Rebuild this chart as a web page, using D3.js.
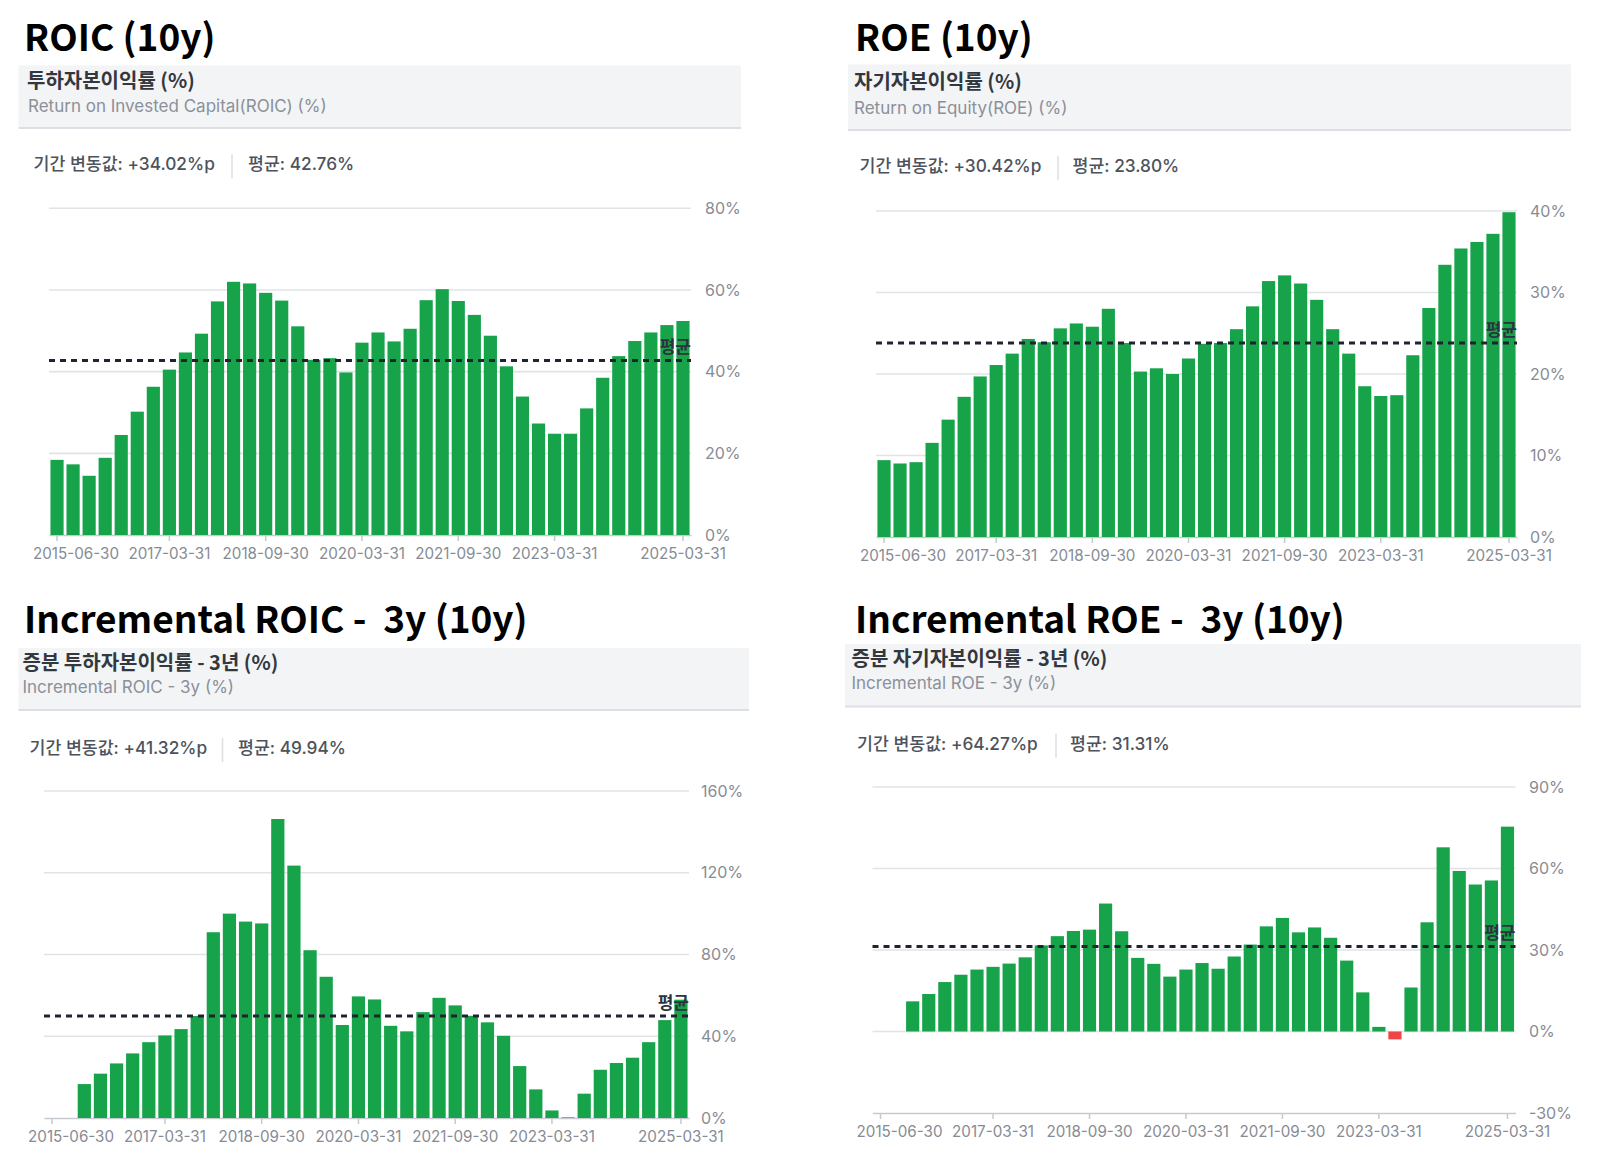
<!DOCTYPE html>
<html><head><meta charset="utf-8">
<script src="https://cdn.jsdelivr.net/npm/d3@7"></script>
<style>
html,body{margin:0;padding:0;background:#fff;}
svg{display:block;}
</style></head><body>
<svg id="c" width="1608" height="1171"></svg>
<script>
// ---------- DATA ----------
const quarters = ["2015-06-30","2015-09-30","2015-12-31","2016-03-31","2016-06-30","2016-09-30","2016-12-31","2017-03-31",
 "2017-06-30","2017-09-30","2017-12-31","2018-03-31","2018-06-30","2018-09-30","2018-12-31","2019-03-31",
 "2019-06-30","2019-09-30","2019-12-31","2020-03-31","2020-06-30","2020-09-30","2020-12-31","2021-03-31",
 "2021-06-30","2021-09-30","2021-12-31","2022-03-31","2022-06-30","2022-09-30","2022-12-31","2023-03-31",
 "2023-06-30","2023-09-30","2023-12-31","2024-03-31","2024-06-30","2024-09-30","2024-12-31","2025-03-31"];
const tickLabels = ["2015-06-30","2017-03-31","2018-09-30","2020-03-31","2021-09-30","2023-03-31","2025-03-31"];

const roicValues = [18.4,17.3,14.5,18.9,24.5,30.2,36.3,40.5,44.7,49.3,57.2,62.0,61.6,59.3,57.4,51.1,42.9,43.3,39.8,47.1,
 49.6,47.4,50.5,57.5,60.2,57.3,53.9,48.8,41.3,33.9,27.3,24.8,24.8,31.0,38.5,43.8,47.5,49.6,51.4,52.4];
const roeValues = [9.43,9.02,9.18,11.55,14.4,17.2,19.7,21.1,22.5,24.3,23.9,25.6,26.2,25.8,28.0,23.8,20.3,20.7,20.0,21.9,
 23.7,23.8,25.5,28.3,31.4,32.1,31.1,29.1,25.5,22.5,18.5,17.3,17.4,22.3,28.1,33.4,35.4,36.2,37.2,39.85];
const incRoicValues = [null,null,16.6,21.7,26.7,31.6,37.1,40.4,43.5,49.9,90.9,100.0,96.1,95.2,146.3,123.5,82.1,69.1,45.5,59.5,
 58.0,45.1,42.4,51.8,58.8,55.1,50.0,46.8,40.2,25.4,14.0,3.7,0.3,11.9,23.6,26.9,29.5,37.1,47.9,57.9];
const incRoeValues = [null,null,11.1,13.8,18.2,20.9,22.8,23.8,25.0,27.3,31.7,35.1,37.0,37.5,47.1,36.9,27.1,24.9,20.2,22.8,
 25.2,23.1,27.6,32.0,38.7,41.8,36.5,38.3,34.5,26.1,14.4,1.7,-2.9,16.2,40.2,67.8,59.1,54.1,55.6,75.4];

const chartTitles = ["ROIC (10y)","ROE (10y)","Incremental ROIC -  3y (10y)","Incremental ROE -  3y (10y)"];
const koreanTitles = ["투하자본이익률 (%)","자기자본이익률 (%)","증분 투하자본이익률 - 3년 (%)","증분 자기자본이익률 - 3년 (%)"];
const englishTitles = ["Return on Invested Capital(ROIC) (%)","Return on Equity(ROE) (%)","Incremental ROIC - 3y (%)","Incremental ROE - 3y (%)"];
const periodChanges = ["+34.02%p","+30.42%p","+41.32%p","+64.27%p"];
const averages = [42.76, 23.80, 49.94, 31.31];
const yTicksRoic = [0,20,40,60,80];
const yTicksRoe = [0,10,20,30,40];
const yTicksIncRoic = [0,40,80,120,160];
const yTicksIncRoe = [-30,0,30,60,90];
const seriesList = [roicValues, roeValues, incRoicValues, incRoeValues];
const yTickList = [yTicksRoic, yTicksRoe, yTicksIncRoic, yTicksIncRoe];

// ---------- LAYOUT ----------
const layouts = [
 {title:[24,51], box:[18.5,741,65.5,128], kor:[27,88], eng:[28,112], stats:{y:170,x0:33.5,sep:232,x1:248}, x:[49,691], y:[535,208.3], ylab:705},
 {title:[855,51], box:[848,1571,64.5,130], kor:[854,89], eng:[854,114], stats:{y:172,x0:859.5,sep:1058,x1:1072.5}, x:[876,1517], y:[537,211], ylab:1530},
 {title:[24,633], box:[18.5,749,648,710], kor:[22.5,670], eng:[22.5,693], stats:{y:754,x0:29.5,sep:222.5,x1:238}, x:[44,689], y:[1118,791], ylab:701},
 {title:[855,633], box:[845,1581,644,706.5], kor:[851.5,666], eng:[851.5,689], stats:{y:750,x0:857,sep:1056,x1:1070}, x:[872.5,1515.5], y:[1113,787], ylab:1529}
];

const GREEN = "#16a34a", RED = "#ef4444";
const KR = "'Noto Sans CJK KR','Noto Sans',sans-serif";
const MIX = "Inter,'Noto Sans CJK KR',sans-serif";
const svg = d3.select("#c");

layouts.forEach((L, i) => {
  const g = svg.append("g");
  // title
  g.append("text").attr("x", L.title[0]).attr("y", L.title[1])
    .style("white-space","pre")
    .attr("font-family","'Noto Sans CJK KR','Noto Sans',sans-serif").attr("font-weight",700)
    .attr("font-size",37).attr("fill","#000").text(chartTitles[i]);
  // header box
  g.append("rect").attr("x", L.box[0]).attr("y", L.box[2])
    .attr("width", L.box[1]-L.box[0]).attr("height", L.box[3]-L.box[2]).attr("fill","#f3f4f6");
  g.append("line").attr("x1", L.box[0]).attr("x2", L.box[1]).attr("y1", L.box[3]).attr("y2", L.box[3])
    .attr("stroke","#dcdfe3").attr("stroke-width",2);
  g.append("text").attr("x", L.kor[0]).attr("y", L.kor[1]).attr("font-family",KR).attr("font-weight",700)
    .attr("font-size",20).attr("fill","#33383f").text(koreanTitles[i]);
  g.append("text").attr("x", L.eng[0]).attr("y", L.eng[1]).attr("font-family","Inter,'Noto Sans',sans-serif")
    .attr("font-size",17).attr("fill","#8b9099").text(englishTitles[i]);
  // stats
  g.append("text").attr("x", L.stats.x0).attr("y", L.stats.y).attr("font-family",MIX).attr("font-weight",500)
    .attr("font-size",17.3).attr("fill","#4d535c").text("기간 변동값: " + periodChanges[i]);
  g.append("line").attr("x1", L.stats.sep).attr("x2", L.stats.sep)
    .attr("y1", L.stats.y-16).attr("y2", L.stats.y+8).attr("stroke","#dcdfe4").attr("stroke-width",1.5);
  g.append("text").attr("x", L.stats.x1).attr("y", L.stats.y).attr("font-family",MIX).attr("font-weight",500)
    .attr("font-size",17.3).attr("fill","#4d535c").text("평균: " + averages[i].toFixed(2) + "%");

  // scales
  const ticks = yTickList[i];
  const x = d3.scaleBand().domain(quarters).range(L.x).paddingInner(0.18).paddingOuter(0.09);
  const y = d3.scaleLinear().domain([d3.min(ticks), d3.max(ticks)]).range(L.y);

  // gridlines
  g.append("g").selectAll("line").data(ticks.slice(1)).join("line")
    .attr("x1", L.x[0]).attr("x2", L.x[1])
    .attr("y1", d => y(d)).attr("y2", d => y(d))
    .attr("stroke","#e2e3e7").attr("stroke-width",1.6);

  // y labels
  const ya = g.append("g").attr("transform", `translate(${L.ylab},0)`)
    .call(d3.axisRight(y).tickValues(ticks).tickSize(0).tickPadding(0).tickFormat(d => d + "%"));
  ya.select(".domain").remove();
  ya.selectAll("text").attr("font-family","Inter,Roboto,sans-serif").attr("font-size",16).attr("fill","#878c95");

  // x axis
  const xa = g.append("g").attr("transform", `translate(0,${L.y[0]})`)
    .call(d3.axisBottom(x).tickValues(tickLabels).tickSize(6).tickSizeOuter(0));
  xa.select(".domain").attr("stroke","#c5c9d0").attr("stroke-width",1.6);
  xa.selectAll(".tick line").attr("stroke","#c5c9d0").attr("stroke-width",1.5);
  xa.selectAll("text").attr("font-family","Inter,Roboto,sans-serif").attr("font-size",15.2)
    .attr("fill","#868b94").attr("y",23.5).attr("dy","0");
  xa.selectAll(".tick").filter(d => d === tickLabels[0]).select("text")
    .attr("text-anchor","start").attr("x",-24);

  // bars
  const data = quarters.map((q, k) => ({q, v: seriesList[i][k]})).filter(d => d.v !== null);
  g.append("g").selectAll("rect").data(data).join("rect")
    .attr("x", d => x(d.q)).attr("width", x.bandwidth())
    .attr("y", d => y(Math.max(0, d.v)))
    .attr("height", d => Math.abs(y(d.v) - y(0)))
    .attr("fill", d => d.v >= 0 ? GREEN : RED);

  // average line
  const ay = y(averages[i]);
  g.append("line").attr("x1", L.x[0]).attr("x2", L.x[1]).attr("y1", ay).attr("y2", ay)
    .attr("stroke","#1f2430").attr("stroke-width",3).attr("stroke-dasharray","6,5");
  g.append("text").attr("x", L.x[1]).attr("y", ay - 7).attr("text-anchor","end")
    .attr("font-family",KR).attr("font-weight",700).attr("font-size",17).attr("fill","#2d333d").text("평균");
});
</script>
</body></html>
